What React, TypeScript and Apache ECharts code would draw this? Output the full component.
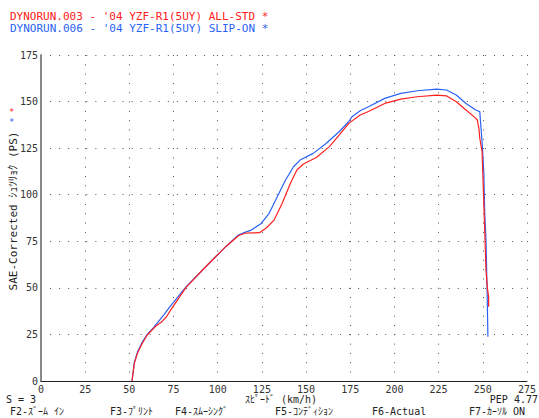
import React, { useEffect, useRef } from "react";
import * as echarts from "echarts";

const xTicks = [0, 25, 50, 75, 100, 125, 150, 175, 200, 225, 250, 275];
const yTicks = [0, 25, 50, 75, 100, 125, 150, 175];

const redSpeed = [51.5, 52.2, 52.8, 54.6, 57.4, 60.1, 63.8, 65, 68, 71, 74, 82.2, 91.4, 98.8, 105, 111.7, 115.3, 119, 123.6, 127.3, 131.9, 136.5, 141.1, 144.8, 148.5, 155.8, 163.2, 168.7, 174.2, 180.6, 185.3, 194.5, 203.6, 212.9, 223.9, 229.4, 235, 240.5, 245.5, 246.9, 247.8, 248.3, 249.6, 250, 251.1, 251.8, 252.6, 253.3, 253.3];
const redPower = [0, 5, 9.5, 15, 20.4, 24.7, 28.3, 29.5, 31.5, 34.5, 39, 50.4, 59.6, 66.7, 72.5, 78, 79.3, 79.5, 79.6, 82, 86.4, 95.4, 106, 113.3, 116.5, 120, 125.8, 132, 138.3, 142.8, 144.7, 149, 151.3, 152.6, 153.5, 153.1, 149.9, 145.5, 141.5, 140.1, 135.6, 130.3, 123, 111.4, 81, 59.6, 50, 45, 39.9];

const blueSpeed = [51.5, 52.2, 52.8, 54.6, 57.4, 60.1, 63.8, 69.4, 73, 82.2, 91.4, 98.8, 105, 111.7, 115.3, 119, 124.6, 129.1, 133.7, 138.4, 142.9, 146.6, 154, 161.3, 168.7, 174.2, 176, 180.6, 185.3, 194.5, 203.6, 212.9, 223.9, 229.4, 235, 240.5, 246, 248.3, 248.7, 249.6, 250.6, 251.1, 251.8, 252.4, 252.9];
const bluePower = [0, 5, 10, 15.5, 21, 25, 28.8, 35.4, 39.9, 50.6, 59.6, 66.7, 72.5, 78.4, 79.8, 81, 84.6, 90, 98.9, 107.9, 115, 118.6, 122.2, 127.5, 133.8, 139.3, 141.9, 145.1, 147.2, 151.7, 154.4, 155.8, 156.7, 156.2, 153.5, 149, 145.5, 144.6, 139.3, 128.5, 111.4, 90, 75.7, 50.6, 23.8];

const titleRed = "DYNORUN.003 - '04 YZF-R1(5UY) ALL-STD *";
const titleBlue = "DYNORUN.006 - '04 YZF-R1(5UY) SLIP-ON *";
const yName = "SAE-Corrected ｼｭﾂﾘｮｸ (PS)";
const xName = "ｽﾋﾟｰﾄﾞ (km/h)";
const footerTexts = ["F2-ｽﾞｰﾑ ｲﾝ", "F3-ﾌﾟﾘﾝﾄ", "F4-ｽﾑｰｼﾝｸﾞ", "F5-ｺﾝﾃﾞｨｼｮﾝ", "F6-Actual", "F7-ｶｰｿﾙ ON"];
const footerX = [10, 110, 175, 275, 372, 469];

const FONT = '"DejaVu Sans Mono", "Noto Sans CJK JP", monospace';
const RED = "#ff2020";
const BLUE = "#2a62f5";

export default function App() {
  const ref = useRef<HTMLDivElement>(null);
  useEffect(() => {
    if (!ref.current) return;
    const chart = echarts.init(ref.current, null, { renderer: "svg" });
    const txt = (text: string, x: number, y: number, fill: string, size = 10, lh = 10, align = "left") => ({
      type: "text",
      x,
      y,
      silent: true,
      style: {
        text,
        fill,
        font: `${size}px ${FONT}`,
        lineHeight: lh,
        align,
        verticalAlign: "middle",
      },
    });
    chart.setOption({
      animation: false,
      backgroundColor: "#ffffff",
      grid: { left: 41, right: 0, top: 55, bottom: 37 },
      xAxis: {
        type: "value",
        min: 0,
        max: 275,
        interval: 25,
        axisLine: { show: true, onZero: false, lineStyle: { color: "#222", width: 1 } },
        axisTick: { show: false },
        axisLabel: {
          margin: 3,
          color: "#333",
          fontFamily: FONT,
          fontSize: 10,
          lineHeight: 10,
          showMaxLabel: true,
          formatter: (v: number) => (xTicks.includes(v) ? String(v) : ""),
        },
        splitLine: { show: true, lineStyle: { color: "#555", width: 1, type: [1, 8.31] } },
      },
      yAxis: {
        type: "value",
        min: 0,
        max: 175,
        interval: 25,
        axisLine: { show: true, onZero: false, lineStyle: { color: "#888", width: 2 } },
        axisTick: { show: false },
        axisLabel: {
          margin: 3,
          color: "#333",
          fontFamily: FONT,
          fontSize: 10,
          formatter: (v: number) => (yTicks.includes(v) ? String(v) : ""),
        },
        splitLine: { show: true, lineStyle: { color: "#555", width: 1, type: [1, 8.06] } },
      },
      series: [
        {
          type: "line",
          name: "SLIP-ON",
          data: blueSpeed.map((s, i) => [s, bluePower[i]]),
          showSymbol: false,
          lineStyle: { color: BLUE, width: 1.2 },
          z: 2,
        },
        {
          type: "line",
          name: "ALL-STD",
          data: redSpeed.map((s, i) => [s, redPower[i]]),
          showSymbol: false,
          lineStyle: { color: RED, width: 1.2 },
          z: 3,
        },
      ],
      graphic: [
        txt(titleRed, 10, 16, RED, 11, 11),
        txt(titleBlue, 10, 28, BLUE, 11, 11),
        txt("*", 9, 111.5, RED, 9, 7),
        txt("*", 9, 121.5, BLUE, 9, 7),
        {
          type: "text",
          x: 13,
          y: 211,
          rotation: Math.PI / 2,
          silent: true,
          style: {
            text: yName,
            fill: "#222",
            font: `11px ${FONT}`,
            align: "center",
            verticalAlign: "middle",
          },
        },
        txt("S = 3", 6, 399.5, "#222"),
        txt(xName, 245, 399.5, "#222"),
        txt("PEP 4.77", 538, 399.5, "#222", 10, 10, "right"),
        ...footerTexts.map((t, i) => txt(t, footerX[i], 411.5, "#222")),
      ],
    });
    return () => chart.dispose();
  }, []);
  return <div ref={ref} style={{ width: 539, height: 418, position: "absolute", left: 0, top: 0 }} />;
}
